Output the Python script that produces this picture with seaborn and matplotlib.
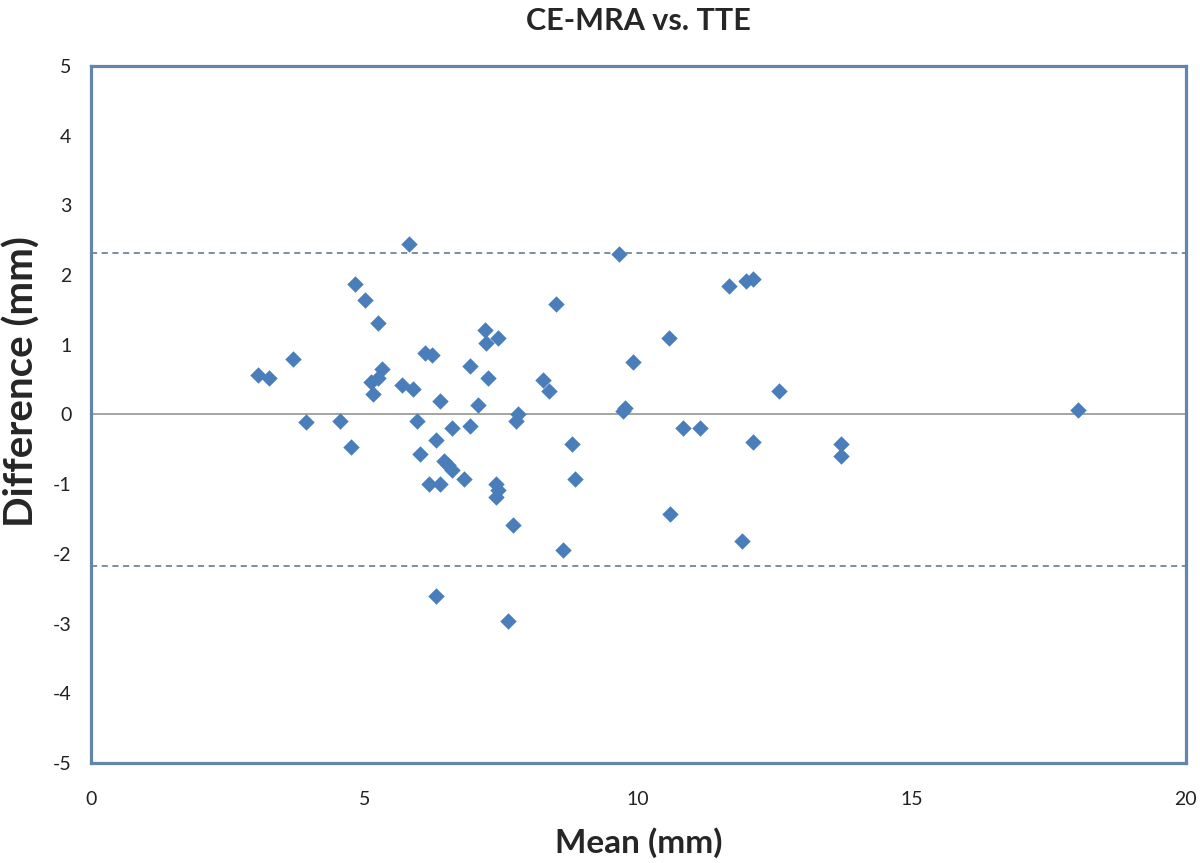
import matplotlib
matplotlib.use("Agg")
import matplotlib.pyplot as plt
import seaborn as sns
import pandas as pd

# Bland-Altman data (mean of the two methods, difference)
mean_mm = [3.05, 3.25, 3.69, 3.93, 4.55, 4.75, 4.83, 5.01, 5.25, 5.12,
           5.25, 5.32, 5.16, 5.69, 5.89, 5.81, 6.11, 6.23, 5.96, 6.01,
           6.18, 6.38, 6.31, 6.38, 6.45, 6.53, 6.60, 6.60, 6.82, 6.93,
           6.93, 7.07, 7.20, 7.22, 7.26, 7.44, 7.40, 7.44, 7.40, 7.71,
           7.77, 7.81, 7.62, 6.31, 8.26, 8.37, 8.50, 8.79, 8.85, 8.63,
           9.65, 9.72, 9.76, 9.90, 10.57, 10.58, 10.82, 11.13, 11.65, 11.97,
           12.10, 12.10, 11.90, 12.58, 13.71, 13.71, 18.04]
diff_mm = [0.56, 0.53, 0.80, -0.11, -0.09, -0.46, 1.87, 1.64, 1.32, 0.46,
           0.52, 0.65, 0.30, 0.42, 0.36, 2.44, 0.88, 0.85, -0.10, -0.56,
           -1.00, -1.00, -0.36, 0.19, -0.67, -0.73, -0.79, -0.19, -0.93, -0.17,
           0.70, 0.13, 1.21, 1.03, 0.53, 1.10, -1.00, -1.09, -1.19, -1.59,
           -0.09, 0.00, -2.96, -2.60, 0.50, 0.33, 1.59, -0.43, -0.92, -1.95,
           2.31, 0.05, 0.09, 0.76, 1.10, -1.43, -0.19, -0.19, 1.85, 1.92,
           1.95, -0.40, -1.81, 0.33, -0.42, -0.60, 0.07]

upper_loa = 2.32
lower_loa = -2.18

df = pd.DataFrame({"mean": mean_mm, "diff": diff_mm})

sns.set_style("white")
plt.rcParams["font.family"] = ["Lato", "DejaVu Sans"]
plt.rcParams["axes.unicode_minus"] = False

fig = plt.figure(figsize=(12, 8.63), dpi=100)
ax = fig.add_axes([0.0758, 0.1159, 0.9122, 0.8076])

frame_col = "#6384ab"
point_col = "#4a7ebb"

ax.axhline(0, color="#8c8c8c", lw=1.1, zorder=1)
ax.axhline(upper_loa, color="#55708f", lw=1.1, ls=(0, (4, 3)), zorder=1)
ax.axhline(lower_loa, color="#55708f", lw=1.1, ls=(0, (4, 3)), zorder=1)

sns.scatterplot(data=df, x="mean", y="diff", marker="D", s=70,
                color=point_col, edgecolor=point_col, linewidth=0, ax=ax, zorder=3)

ax.set_xlim(0, 20)
ax.set_ylim(-5, 5)
ax.set_xticks([0, 5, 10, 15, 20])
ax.set_yticks(range(-5, 6))
ax.tick_params(axis="both", length=0, labelsize=14, colors="#222222")
ax.tick_params(axis="x", pad=20)
ax.tick_params(axis="y", pad=14)

for s in ax.spines.values():
    s.set_color(frame_col)
    s.set_linewidth(2.3)

ax.set_xlabel("Mean (mm)", fontsize=24, fontweight="bold", labelpad=14)
ax.set_ylabel("Difference (mm)", fontsize=29, fontweight="bold")
ax.yaxis.set_label_coords(-0.046, 0.547)
ax.set_title("CE-MRA vs. TTE", fontsize=22, fontweight="bold", pad=26)

fig.savefig("out.png", dpi=100)
